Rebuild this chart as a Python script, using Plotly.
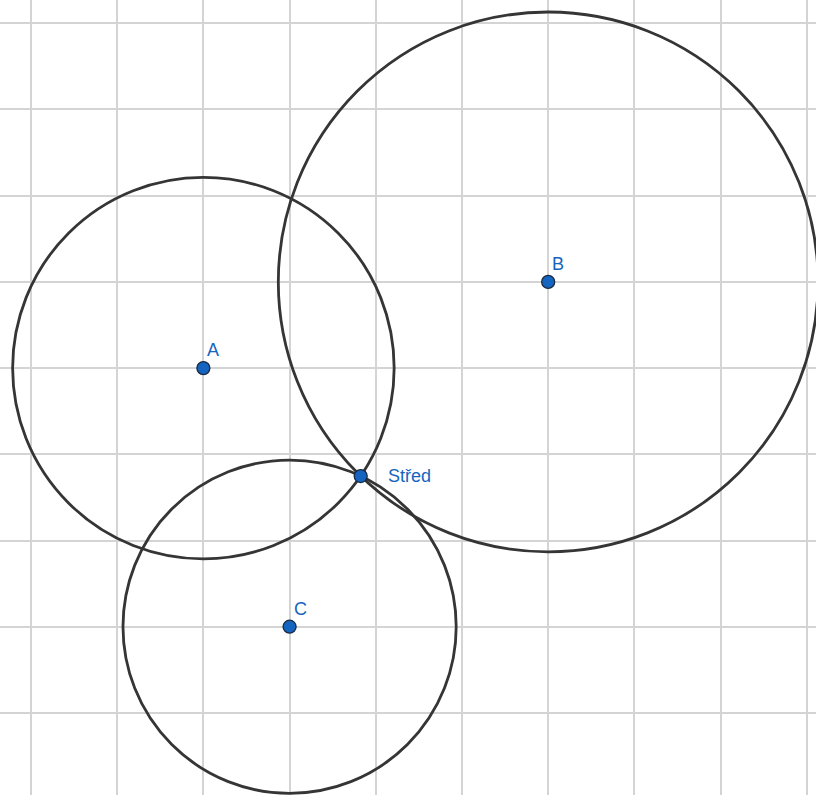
import math
import plotly.graph_objects as go

# Points (grid units)
point_names = ["A", "B", "C", "Střed"]
point_x = [2.0, 6.0, 3.0, 3.825]
point_y = [4.0, 5.0, 1.0, 2.748]

# Circles: centered at A, B, C passing through Střed
circle_centers = ["A", "B", "C"]
through_point = "Střed"

BLUE = "#1565C0"
CIRCLE = "#353535"
GRID = "#d4d4d4"

pos = {n: (x, y) for n, x, y in zip(point_names, point_x, point_y)}

fig = go.Figure()

shapes = []
sx, sy = pos[through_point]
for c in circle_centers:
    cx, cy = pos[c]
    r = math.hypot(sx - cx, sy - cy)
    shapes.append(dict(type="circle", xref="x", yref="y",
                       x0=cx - r, x1=cx + r, y0=cy - r, y1=cy + r,
                       line=dict(color=CIRCLE, width=2.8), layer="between"))

fig.add_trace(go.Scatter(
    x=point_x, y=point_y, mode="markers",
    marker=dict(size=13, color=BLUE, line=dict(color="#1a2a40", width=1.3)),
    hoverinfo="skip", showlegend=False))

annotations = []
label_shift = {"A": (2, 18), "B": (2, 18), "C": (2, 18), "Střed": (25, 0)}
for n, x, y in zip(point_names, point_x, point_y):
    dx, dy = label_shift[n]
    annotations.append(dict(x=x, y=y, xref="x", yref="y", text=n, showarrow=False,
                            xanchor="left", yanchor="middle", xshift=dx, yshift=dy,
                            font=dict(family="Liberation Sans, Arial, sans-serif",
                                      size=18, color=BLUE)))

fig.update_layout(
    width=816, height=795,
    margin=dict(l=0, r=0, t=0, b=0),
    paper_bgcolor="white", plot_bgcolor="white",
    shapes=shapes, annotations=annotations,
    xaxis=dict(range=[-0.3596, 9.107], tick0=0, dtick=1, showgrid=True,
               gridcolor=GRID, gridwidth=1.6, zeroline=False,
               showticklabels=False, ticks="", showline=False, fixedrange=True),
    yaxis=dict(range=[-0.952, 8.270], tick0=0, dtick=1, showgrid=True,
               gridcolor=GRID, gridwidth=1.6, zeroline=False,
               showticklabels=False, ticks="", showline=False, fixedrange=True),
)

fig.write_html("out.html", config={"displayModeBar": False},
               post_script="document.body.style.margin='0';document.body.style.overflow='hidden';")
